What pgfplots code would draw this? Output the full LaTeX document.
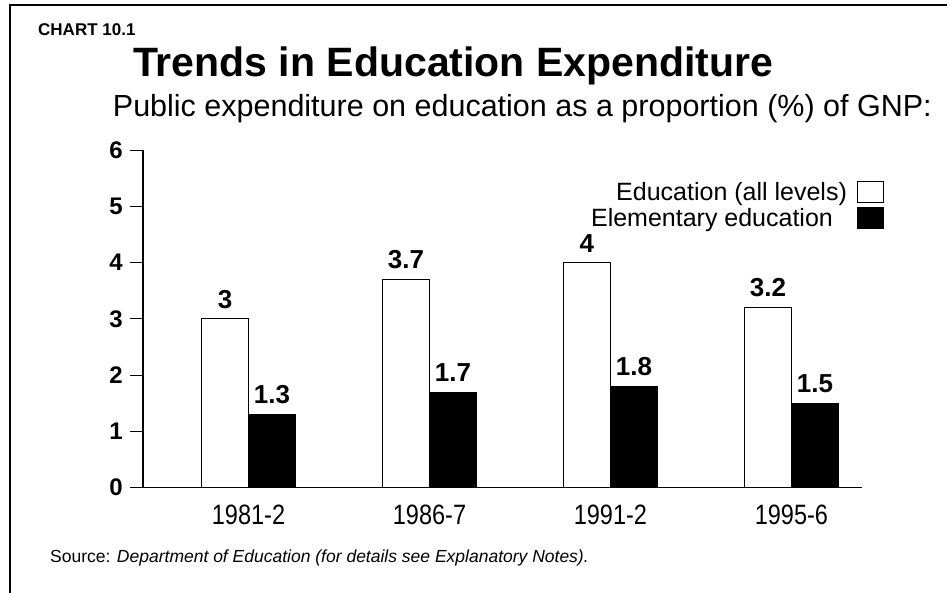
\documentclass[border=0pt]{standalone}
\usepackage{fontspec}
\setmainfont{Liberation Sans}
\newfontfamily\tickfont[FakeStretch=0.84]{Liberation Sans}
\usepackage{pgfplots}
\pgfplotsset{compat=1.18}
\begin{document}
\begin{tikzpicture}
\useasboundingbox (0pt,0pt) rectangle (947pt,592pt);
% frame
\draw[line width=2.4pt] (10pt,-5pt) -- (10pt,587pt) -- (950pt,587pt);
% titles
\node[anchor=base west, inner sep=0pt, font=\fontsize{17}{20}\selectfont\bfseries] at (38pt,556pt) {CHART 10.1};
\node[anchor=base west, inner sep=0pt, font=\fontsize{41}{48}\selectfont\bfseries] at (133pt,515pt) {Trends in Education Expenditure};
\node[anchor=base east, inner sep=0pt, font=\fontsize{30.5}{35}\selectfont] at (932pt,475pt) {Public expenditure on education as a proportion (\%) of GNP:};
\node[anchor=base west, inner sep=0pt, font=\fontsize{17.5}{21}\selectfont] at (50pt,30pt) {Source: \textit{Department of Education (for details see Explanatory Notes).}};
\begin{axis}[
  at={(143pt,104.3pt)}, anchor=south west,
  scale only axis, width=719pt, height=337.7pt,
  xmin=-0.583, xmax=3.39, ymin=0, ymax=6,
  axis x line=bottom, axis y line=left,
  axis line style={-, line width=1.2pt, black},
  xtick={0,1,2,3}, xticklabels={1981-2,1986-7,1991-2,1995-6},
  x tick style={draw=none},
  ytick={0,1,2,3,4,5,6},
  y tick style={line width=0.9pt, black},
  tick align=outside, major tick length=13pt,
  /pgf/number format/assume math mode=true,
  yticklabel style={font=\fontsize{24}{28}\selectfont\bfseries, inner sep=0pt, xshift=-7pt},
  xticklabel style={font=\fontsize{28}{32}\selectfont\tickfont, inner sep=0pt, anchor=north, yshift=-4pt},
  ybar=0pt, bar width=47pt,
  nodes near coords,
  nodes near coords style={font=\fontsize{26}{30}\selectfont\bfseries, anchor=south, inner sep=0pt, yshift=10pt},
  legend plot pos=right,
  legend cell align=right,
  legend style={at={(axis description cs:1.0306,0.908)}, anchor=north east, draw=none, fill=none,
    font=\fontsize{25}{29}\selectfont, inner sep=0pt, row sep=4pt, column sep=10pt,
    nodes={inner sep=0pt}},
  clip=false,
]
\addplot[draw=black, line width=0.8pt, fill=white,
  legend image code/.code={\draw[draw=black, line width=0.9pt, fill=white] (0pt,-10.5pt) rectangle (26pt,10.5pt);}]
  coordinates {(0,3.0) (1,3.7) (2,4.0) (3,3.2)};
\addlegendentry{Education (all levels)}
\addplot[draw=black, line width=0.8pt, fill=black,
  legend image code/.code={\draw[draw=black, line width=0.9pt, fill=black] (0pt,-10.5pt) rectangle (26pt,10.5pt);}]
  coordinates {(0,1.3) (1,1.7) (2,1.8) (3,1.5)};
\addlegendentry{Elementary education\hspace*{14pt}}
\end{axis}
\end{tikzpicture}
\end{document}
